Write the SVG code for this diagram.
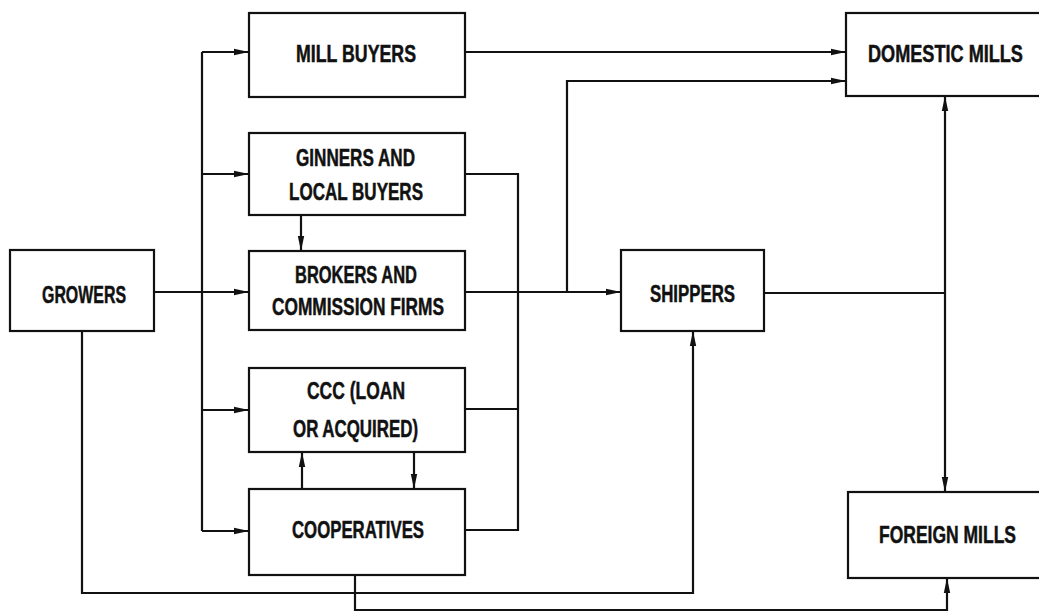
<svg xmlns="http://www.w3.org/2000/svg" width="1039" height="614" viewBox="0 0 1039 614">
<defs>
<marker id="arr" markerUnits="userSpaceOnUse" markerWidth="16" markerHeight="10" refX="15" refY="5" orient="auto">
<path d="M0,1.8 L15,5 L0,8.2 Z" fill="#111"/>
</marker>
<style>
.box{fill:#fff;stroke:#111;stroke-width:2.2}
.lbl{font-family:"Liberation Sans",Arial,sans-serif;font-weight:bold;font-size:24px;fill:#111;stroke:#111;stroke-width:0.5;text-anchor:middle}
.c{fill:none;stroke:#111;stroke-width:2.2}
.a{fill:none;stroke:#111;stroke-width:2.2;marker-end:url(#arr)}
</style>
</defs>
<rect width="1039" height="614" fill="#fff"/>
<g id="connectors">
<path class="a" d="M154,292 H249"/>
<path class="c" d="M202,52 V531"/>
<path class="a" d="M202,52 H249"/>
<path class="a" d="M202,174 H249"/>
<path class="a" d="M202,410 H249"/>
<path class="a" d="M202,531 H249"/>
<path class="a" d="M301,215 V251"/>
<path class="a" d="M302,489 V452"/>
<path class="a" d="M414,452 V489"/>
<path class="c" d="M465,174 H518 V530 H465"/>
<path class="c" d="M465,409 H518"/>
<path class="a" d="M465,292 H621"/>
<path class="a" d="M567,292 V81 H846"/>
<path class="a" d="M465,52 H846"/>
<path class="c" d="M764,293 H945"/>
<path class="a" d="M945,293 V96"/>
<path class="a" d="M945,293 V492"/>
<path class="a" d="M82,331 V593 H693 V331"/>
<path class="a" d="M355,575 V610 H947 V578"/>
</g>
<g id="mill-buyers"><rect class="box" x="249" y="13" width="216" height="84"/><text class="lbl" x="356" y="62" textLength="120" lengthAdjust="spacingAndGlyphs">MILL BUYERS</text></g>
<g id="ginners"><rect class="box" x="249" y="133" width="216" height="82"/><text class="lbl" x="355.5" y="166" textLength="119" lengthAdjust="spacingAndGlyphs">GINNERS AND</text><text class="lbl" x="356" y="200" textLength="134" lengthAdjust="spacingAndGlyphs">LOCAL BUYERS</text></g>
<g id="brokers"><rect class="box" x="249" y="251" width="216" height="79"/><text class="lbl" x="356" y="283" textLength="122" lengthAdjust="spacingAndGlyphs">BROKERS AND</text><text class="lbl" x="358" y="315" textLength="172" lengthAdjust="spacingAndGlyphs">COMMISSION FIRMS</text></g>
<g id="ccc"><rect class="box" x="249" y="368" width="216" height="84"/><text class="lbl" x="356" y="399" textLength="98" lengthAdjust="spacingAndGlyphs">CCC (LOAN</text><text class="lbl" x="355.5" y="437" textLength="125" lengthAdjust="spacingAndGlyphs">OR ACQUIRED)</text></g>
<g id="cooperatives"><rect class="box" x="249" y="489" width="216" height="86"/><text class="lbl" x="358" y="538" textLength="132" lengthAdjust="spacingAndGlyphs">COOPERATIVES</text></g>
<g id="growers"><rect class="box" x="10" y="250" width="144" height="81"/><text class="lbl" x="84" y="303" textLength="84" lengthAdjust="spacingAndGlyphs">GROWERS</text></g>
<g id="shippers"><rect class="box" x="621" y="250" width="143" height="81"/><text class="lbl" x="692.5" y="302" textLength="85" lengthAdjust="spacingAndGlyphs">SHIPPERS</text></g>
<g id="domestic-mills"><rect class="box" x="846" y="13" width="200" height="83"/><text class="lbl" transform="translate(945.5,62) scale(0.755,1)" x="0" y="0">DOMESTIC MILLS</text></g>
<g id="foreign-mills"><rect class="box" x="848" y="492" width="200" height="86"/><text class="lbl" transform="translate(947.5,543) scale(0.729,1)" x="0" y="0">FOREIGN MILLS</text></g>
</svg>
